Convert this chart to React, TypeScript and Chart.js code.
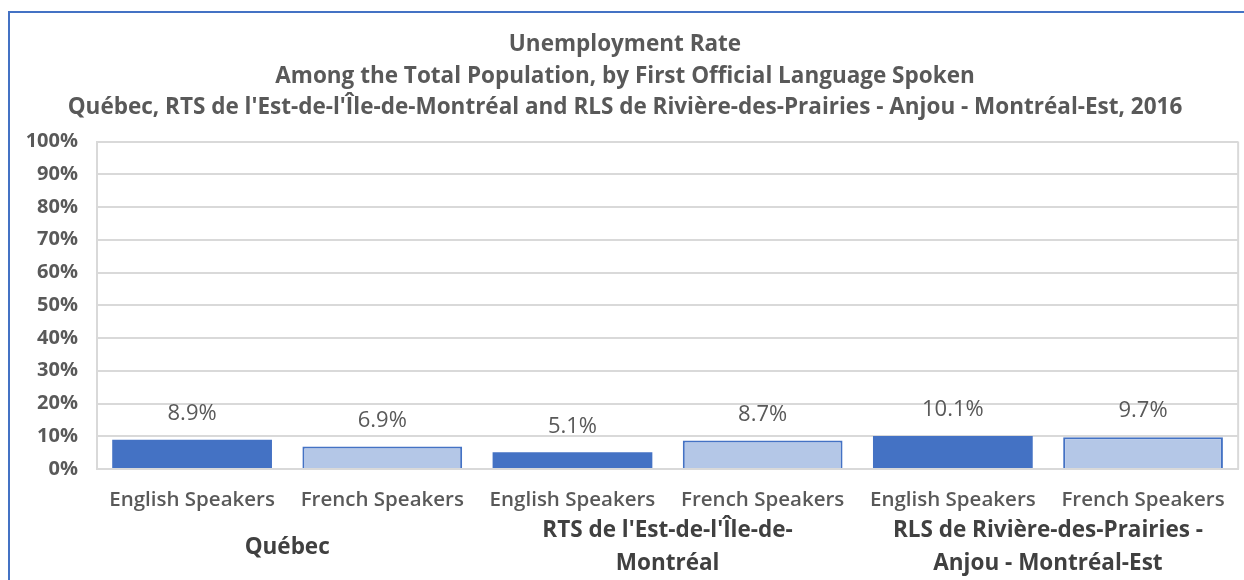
import React, { useEffect, useRef } from "react";
import { Chart, registerables } from "chart.js";

Chart.register(...registerables);

const titleLines = [
  "Unemployment Rate",
  "Among the Total Population, by First Official Language Spoken",
  "Québec, RTS de l'Est-de-l'Île-de-Montréal and RLS de Rivière-des-Prairies - Anjou - Montréal-Est, 2016",
];
const categories = [
  "English Speakers",
  "French Speakers",
  "English Speakers",
  "French Speakers",
  "English Speakers",
  "French Speakers",
];
const groups = [
  ["Québec"],
  ["RTS de l'Est-de-l'Île-de-", "Montréal"],
  ["RLS de Rivière-des-Prairies -", "Anjou - Montréal-Est"],
];
const values = [8.9, 6.9, 5.1, 8.7, 10.1, 9.7];
const yTicks = [0, 10, 20, 30, 40, 50, 60, 70, 80, 90, 100];

const DARK = "#4472C4";
const LIGHT = "#B4C7E7";
const FONT = "'Open Sans', Lato, sans-serif";

const extrasPlugin = {
  id: "extras",
  afterDraw(chart: any) {
    const { ctx, chartArea } = chart;
    const x = chart.scales.x;
    const meta = chart.getDatasetMeta(0);
    ctx.save();
    // right border of plot area
    ctx.strokeStyle = "#D9D9D9";
    ctx.lineWidth = 2;
    ctx.beginPath();
    ctx.moveTo(chartArea.right, chartArea.top);
    ctx.lineTo(chartArea.right, chartArea.bottom);
    ctx.stroke();
    // data labels
    ctx.fillStyle = "#595959";
    ctx.font = `400 22px ${FONT}`;
    ctx.textAlign = "center";
    ctx.textBaseline = "middle";
    meta.data.forEach((bar: any, i: number) => {
      ctx.fillText(values[i].toFixed(1) + "%", bar.x, bar.y - 26);
    });
    // group labels
    ctx.fillStyle = "#404040";
    ctx.font = `700 22.5px ${FONT}`;
    groups.forEach((lines, g) => {
      const cx = (x.getPixelForValue(g * 2) + x.getPixelForValue(g * 2 + 1)) / 2;
      const base = chartArea.bottom;
      if (lines.length === 1) {
        ctx.fillText(lines[0], cx, base + 79);
      } else {
        ctx.fillText(lines[0], cx, base + 62);
        ctx.fillText(lines[1], cx, base + 95);
      }
    });
    ctx.restore();
  },
};

export default function App() {
  const ref = useRef<HTMLCanvasElement>(null);
  useEffect(() => {
    if (!ref.current) return;
    const chart = new Chart(ref.current, {
      type: "bar",
      data: {
        labels: categories,
        datasets: [
          {
            data: values,
            backgroundColor: values.map((_, i) => (i % 2 === 0 ? DARK : LIGHT)),
            borderColor: DARK,
            borderWidth: values.map((_, i) => (i % 2 === 0 ? 0 : 2)),
            barPercentage: 0.84,
            categoryPercentage: 1,
          },
        ],
      },
      options: {
        responsive: false,
        animation: false,
        layout: { padding: { left: 0, right: 4, top: 0, bottom: 0 } },
        plugins: {
          legend: { display: false },
          tooltip: { enabled: false },
          title: {
            display: true,
            text: titleLines,
            color: "#595959",
            font: { family: FONT, size: 22.5, weight: "bold", lineHeight: 1.4 },
            padding: { top: 16, bottom: 18 },
          },
        },
        scales: {
          x: {
            grid: { display: false, drawTicks: false },
            border: { color: "#D9D9D9", width: 2 },
            ticks: {
              color: "#595959",
              font: { family: FONT, size: 20.5, weight: "600" },
              padding: 19,
              maxRotation: 0,
              autoSkip: false,
            },
            afterFit(scale: any) {
              scale.height = 111;
            },
          },
          y: {
            min: 0,
            max: 100,
            afterBuildTicks(scale: any) {
              scale.ticks = yTicks.map((v) => ({ value: v }));
            },
            grid: { color: "#D9D9D9", lineWidth: 2, drawTicks: false },
            border: { color: "#D9D9D9", width: 2 },
            ticks: {
              color: "#595959",
              font: { family: FONT, size: 20, weight: "bold" },
              padding: 19,
              callback: (v: any) => v + "%",
            },
            afterFit(scale: any) {
              scale.width = 87;
            },
          },
        },
      },
      plugins: [extrasPlugin],
    });
    return () => chart.destroy();
  }, []);
  return (
    <div
      style={{
        position: "fixed",
        left: 8,
        top: 11,
        width: 1236,
        height: 569,
        borderTop: "2px solid #4472C4",
        borderLeft: "2px solid #4472C4",
        background: "#fff",
        overflow: "hidden",
      }}
    >
      <canvas ref={ref} width={1234} height={567} style={{ display: "block" }} />
    </div>
  );
}
